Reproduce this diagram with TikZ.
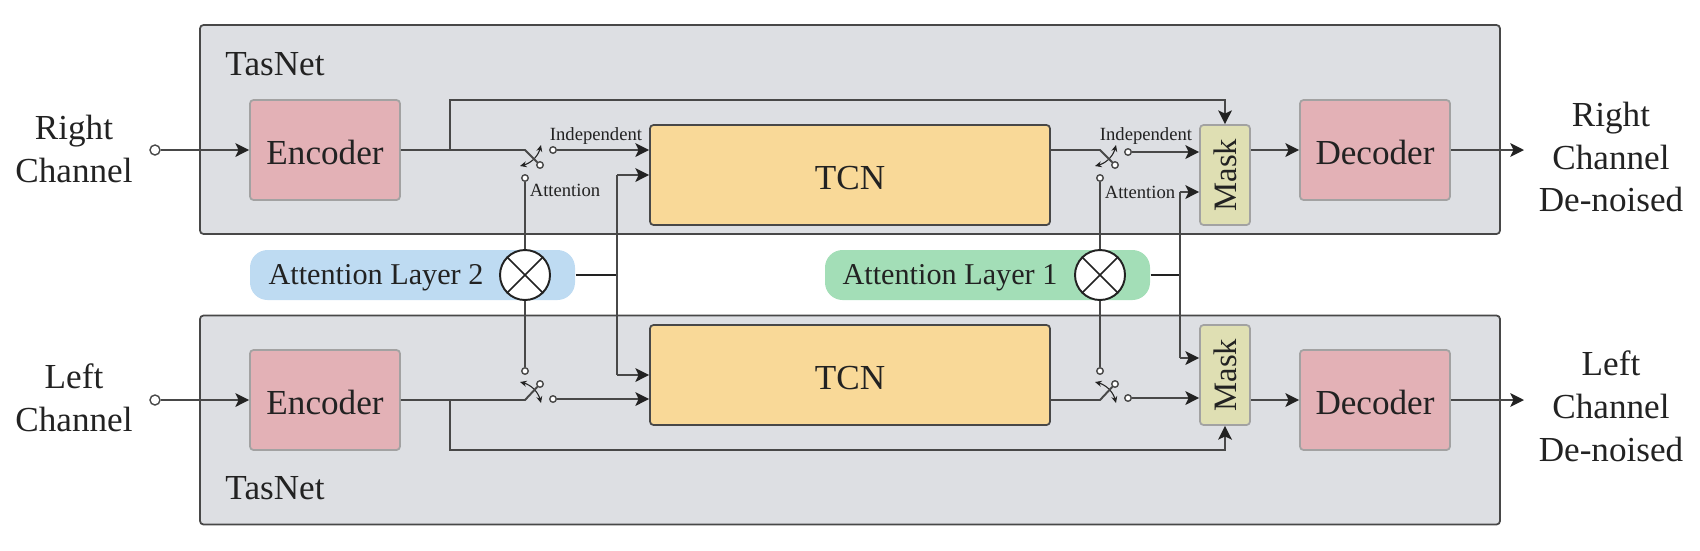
\documentclass[tikz,border=0pt]{standalone}
\usepackage{fontspec}
\setmainfont{Liberation Serif}
\usetikzlibrary{arrows.meta}

\definecolor{panelfill}{HTML}{DDDFE3}
\definecolor{linegray}{HTML}{484848}
\definecolor{edgegray}{HTML}{A2A2A2}
\definecolor{textdark}{HTML}{222222}
\definecolor{codefill}{HTML}{E3B1B6}
\definecolor{tcnfill}{HTML}{F9D998}
\definecolor{maskfill}{HTML}{DFDFB3}
\definecolor{bluefill}{HTML}{BEDBF2}
\definecolor{greenfill}{HTML}{A3DEB7}

\begin{document}
\begin{tikzpicture}[
    every node/.style={inner sep=0pt, text=textdark, font=\fontsize{10}{12.2}\selectfont},
    panel/.style={draw=linegray, fill=panelfill, line width=0.5pt, rounded corners=1pt, minimum width=13cm, minimum height=2.09cm},
    coder/.style={draw=edgegray, fill=codefill, line width=0.5pt, rounded corners=1pt, minimum width=1.5cm, minimum height=1cm, text height=8.5pt, text depth=0pt},
    tcn/.style={draw=linegray, fill=tcnfill, line width=0.5pt, rounded corners=1pt, minimum width=4cm, minimum height=1cm, text height=8.5pt, text depth=0pt},
    mask/.style={draw=edgegray, fill=maskfill, line width=0.5pt, rounded corners=1pt, minimum width=0.5cm, minimum height=1cm, font=\fontsize{9.3}{10}\selectfont},
    pill/.style={rounded corners=5pt, minimum width=3.25cm, minimum height=0.5cm},
    pilltext/.style={font=\fontsize{8.6}{10}\selectfont},
    mult/.style={circle, draw=textdark, fill=white, line width=0.55pt, minimum size=0.5cm},
    crossline/.style={draw=textdark, line width=0.45pt},
    contact/.style={circle, draw=linegray, fill=white, line width=0.4pt, minimum size=0.065cm},
    small/.style={font=\fontsize{5.3}{6}\selectfont},
    wire/.style={draw=linegray, line width=0.55pt},
    flow/.style={wire, -{Stealth[length=3.9pt, width=3.9pt, inset=0.9pt, color=textdark]}},
    throw/.style={draw=textdark, line width=0.3pt, {Stealth[length=1.9pt, width=1.7pt]}-{Stealth[length=1.9pt, width=1.7pt]}}
]

\useasboundingbox (0,0) rectangle (17,5.5);

% ----- panels -----
\node[panel] (panelR) at (8.5,4.205) {};
\node[panel] (panelL) at (8.5,1.30) {};
\node (tasR) at (2.75,4.86) {TasNet};
\node (tasL) at (2.75,0.62) {TasNet};

% ----- channel labels -----
\node[align=center] (nameR) at (0.74,4.01) {Right\\Channel};
\node[align=center] (nameL) at (0.74,1.52) {Left\\Channel};
\node[align=center] (cleanR) at (16.11,3.93) {Right\\Channel\\De-noised};
\node[align=center] (cleanL) at (16.11,1.44) {Left\\Channel\\De-noised};

% ----- blocks, right channel -----
\node[coder] (encR) at (3.25,4.0) {Encoder};
\node[tcn] (tcnR) at (8.5,3.75) {TCN};
\node[mask] (maskR) at (12.25,3.75) {\rotatebox{90}{Mask}};
\node[coder] (decR) at (13.75,4.0) {Decoder};

% ----- blocks, left channel -----
\node[coder] (encL) at (3.25,1.5) {Encoder};
\node[tcn] (tcnL) at (8.5,1.75) {TCN};
\node[mask] (maskL) at (12.25,1.75) {\rotatebox{90}{Mask}};
\node[coder] (decL) at (13.75,1.5) {Decoder};

% ----- attention layers -----
\node[pill, fill=bluefill] (pillB) at (4.125,2.75) {};
\node[pilltext] (textB) at (3.76,2.72) {Attention Layer 2};
\node[mult] (multB) at (5.25,2.75) {};
\node[pill, fill=greenfill] (pillG) at (9.875,2.75) {};
\node[pilltext] (textG) at (9.50,2.72) {Attention Layer 1};
\node[mult] (multG) at (11.0,2.75) {};
\draw[crossline] (multB.north west) -- (multB.south east);
\draw[crossline] (multB.north east) -- (multB.south west);
\draw[crossline] (multG.north west) -- (multG.south east);
\draw[crossline] (multG.north east) -- (multG.south west);

% ----- inputs and outputs -----
\node[contact, minimum size=0.1cm] (inR) at (1.55,4.0) {};
\node[contact, minimum size=0.1cm] (inL) at (1.55,1.5) {};
\coordinate (outR) at (15.24,4.0);
\coordinate (outL) at (15.24,1.5);

% ----- switch contacts -----
\coordinate (hingeA) at (5.25,4.0);
\node[contact] (armA) at (5.40,3.85) {};
\node[contact] (indA) at (5.53,4.0) {};
\node[contact] (attA) at (5.25,3.72) {};
\coordinate (hingeB) at (5.25,1.5);
\node[contact] (armB) at (5.40,1.66) {};
\node[contact] (indB) at (5.53,1.51) {};
\node[contact] (attB) at (5.25,1.79) {};
\coordinate (hingeC) at (11.0,4.0);
\node[contact] (armC) at (11.15,3.85) {};
\node[contact] (indC) at (11.28,3.98) {};
\node[contact] (attC) at (11.0,3.72) {};
\coordinate (hingeD) at (11.0,1.5);
\node[contact] (armD) at (11.15,1.66) {};
\node[contact] (indD) at (11.28,1.52) {};
\node[contact] (attD) at (11.0,1.79) {};

\node[small] (lblIndA) at (5.96,4.14) {Independent};
\node[small] (lblAttA) at (5.65,3.60) {Attention};
\node[small] (lblIndC) at (11.46,4.14) {Independent};
\node[small] (lblAttC) at (11.40,3.58) {Attention};

% ----- switch throws -----
\coordinate (tipA1) at (5.20,3.84);
\coordinate (tipA2) at (5.41,4.05);
\coordinate (tipB1) at (5.20,1.68);
\coordinate (tipB2) at (5.41,1.47);
\coordinate (tipC1) at (10.95,3.84);
\coordinate (tipC2) at (11.16,4.05);
\coordinate (tipD1) at (10.95,1.68);
\coordinate (tipD2) at (11.16,1.47);
\draw[throw] (tipA1) to[bend right=30] (tipA2);
\draw[throw] (tipB1) to[bend left=30] (tipB2);
\draw[throw] (tipC1) to[bend right=30] (tipC2);
\draw[throw] (tipD1) to[bend left=30] (tipD2);

% ----- encoder to switch -----
\draw[flow] (inR) -- (encR);
\draw[flow] (inL) -- (encL);
\draw[wire] (encR) -- (hingeA) -- (armA);
\draw[wire] (encL) -- (hingeB) -- (armB);
\draw[flow] (indA) -- (indA -| tcnR.west);
\draw[flow] (indB) -- (indB -| tcnL.west);

% ----- TCN to mask -----
\draw[wire] (tcnR.east |- hingeC) -- (hingeC) -- (armC);
\draw[wire] (tcnL.east |- hingeD) -- (hingeD) -- (armD);
\draw[flow] (indC) -- (indC -| maskR.west);
\draw[flow] (indD) -- (indD -| maskL.west);

% ----- bypass -----
\coordinate (splitR) at (4.5,4.0);
\coordinate (splitL) at (4.5,1.5);
\coordinate (byR) at (4.5,4.5);
\coordinate (byL) at (4.5,1.0);
\draw[flow] (splitR) -- (byR) -| (maskR.north);
\draw[flow] (splitL) -- (byL) -| (maskL.south);

% ----- attention wires -----
\draw[wire] (attA) -- (multB);
\draw[wire] (attB) -- (multB);
\draw[wire] (attC) -- (multG);
\draw[wire] (attD) -- (multG);
\coordinate (forkB) at (6.17,2.75);
\coordinate (forkG) at (11.8,2.75);
\coordinate (upB) at (6.17,3.75);
\coordinate (downB) at (6.17,1.75);
\coordinate (upG) at (11.8,3.58);
\coordinate (downG) at (11.8,1.92);
\draw[wire, draw=textdark] (pillB.east) -- (forkB);
\draw[wire, draw=textdark] (pillG.east) -- (forkG);
\draw[flow] (upB) -- (upB -| tcnR.west);
\draw[flow] (downB) -- (downB -| tcnL.west);
\draw[wire] (upB) -- (downB);
\draw[flow] (upG) -- (upG -| maskR.west);
\draw[flow] (downG) -- (downG -| maskL.west);
\draw[wire] (upG) -- (downG);

% ----- mask to output -----
\draw[flow] (maskR.east |- decR) -- (decR);
\draw[flow] (maskL.east |- decL) -- (decL);
\draw[flow] (decR) -- (outR);
\draw[flow] (decL) -- (outL);

\end{tikzpicture}
\end{document}
